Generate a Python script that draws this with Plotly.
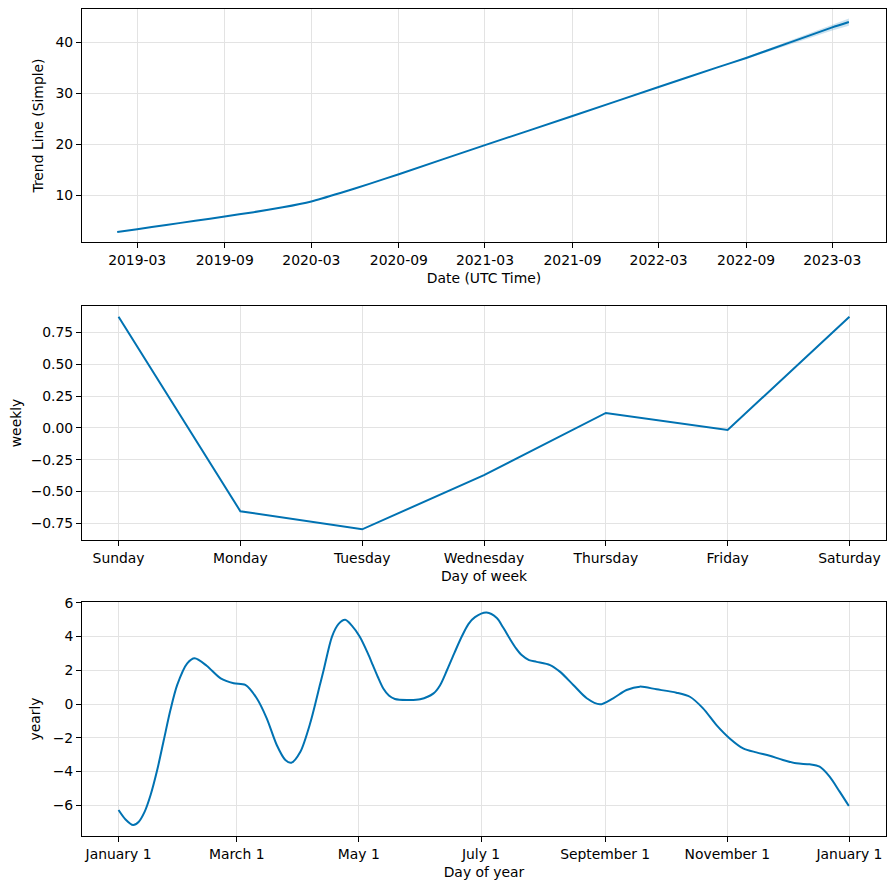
import plotly.graph_objects as go
from plotly.subplots import make_subplots
import pandas as pd

# ---------------- data ----------------
trend_dates = ["2019-01-18", "2019-03-01", "2019-05-01", "2019-07-01", "2019-09-01",
               "2019-11-01", "2020-01-01", "2020-03-01", "2020-05-01", "2020-07-01",
               "2020-09-01", "2021-03-01", "2021-09-01", "2022-03-01",
               "2022-07-01", "2022-09-01", "2022-12-01", "2023-03-01", "2023-04-05"]
trend_values = [2.75, 3.32, 4.14, 4.96, 5.8, 6.65, 7.6, 8.75, 10.4, 12.2,
                14.1, 19.8, 25.5, 31.2, 35.0, 36.9, 39.9, 42.9, 43.95]
trend_upper = [2.75, 3.32, 4.14, 4.96, 5.8, 6.65, 7.6, 8.75, 10.4, 12.2,
               14.1, 19.8, 25.5, 31.2, 35.0, 37.05, 40.25, 43.45, 44.65]
trend_lower = [2.75, 3.32, 4.14, 4.96, 5.8, 6.65, 7.6, 8.75, 10.4, 12.2,
               14.1, 19.8, 25.5, 31.2, 35.0, 36.7, 39.5, 42.3, 43.2]
trend_tickvals = ["2019-03-01", "2019-09-01", "2020-03-01", "2020-09-01", "2021-03-01",
                  "2021-09-01", "2022-03-01", "2022-09-01", "2023-03-01"]
trend_ticktext = ["2019-03", "2019-09", "2020-03", "2020-09", "2021-03",
                  "2021-09", "2022-03", "2022-09", "2023-03"]

weekdays = ["Sunday", "Monday", "Tuesday", "Wednesday", "Thursday", "Friday", "Saturday"]
weekly_values = [0.875, -0.655, -0.797, -0.371, 0.118, -0.016, 0.875]

yearly_days = [0, 3.5, 7.3, 10, 13, 16, 19.3, 22.6, 25.9, 29.3, 34.3, 38, 44, 51, 57.5, 63.3,
               69, 74, 79, 83.3, 86.3, 90.8, 95.8, 100.7, 102.4, 106.6, 109.9, 113.2, 116.5,
               120.4, 124.5, 127, 129.5, 132.3, 135, 138, 144, 150.6, 157.3, 160.5, 164, 167.8,
               171.4, 174.8, 178, 183.8, 188.9, 192, 195.5, 198.5, 201.3, 205, 208.8, 215.5,
               220.4, 227.1, 233.8, 240.4, 247, 253.7, 260.3, 268.7,
               278.6, 285.3, 291.9, 298.6, 305.2, 311.9, 318.5, 325.2, 331.8, 338.5, 345.1,
               350.1, 355.1, 360.1, 364.7]
yearly_values = [-6.29, -6.85, -7.18, -7.0, -6.4, -5.4, -3.92, -2.14, -0.36, 1.13, 2.41, 2.71,
                 2.27, 1.52, 1.23, 1.13, 0.34, -0.85, -2.43, -3.32, -3.48, -2.83, -1.1, 1.2,
                 2.0, 4.0, 4.75, 4.99, 4.65, 4.0, 3.0, 2.3, 1.6, 0.9, 0.5, 0.3, 0.24, 0.28,
                 0.63, 1.1, 2.0, 3.05, 4.0, 4.75, 5.15, 5.42, 5.1, 4.55, 3.85, 3.3, 2.9, 2.6,
                 2.5, 2.31, 1.92, 1.13, 0.34, -0.02, 0.34, 0.83,
                 1.03, 0.87, 0.67, 0.43, -0.26, -1.25, -2.04, -2.63, -2.87, -3.07, -3.32, -3.52,
                 -3.58, -3.72, -4.31, -5.2, -6.05]
yearly_tickvals = ["2017-01-01", "2017-03-01", "2017-05-01", "2017-07-01", "2017-09-01",
                   "2017-11-01", "2018-01-01"]
yearly_ticktext = ["January 1", "March 1", "May 1", "July 1", "September 1", "November 1", "January 1"]

# ---------------- figure ----------------
LINE = "#0072B2"
FONT = "DejaVu Sans"
FS = 13.9

fig = make_subplots(rows=3, cols=1)

fig.add_trace(go.Scatter(x=trend_dates, y=trend_upper, mode="lines", line=dict(width=0),
                         showlegend=False, hoverinfo="skip"), row=1, col=1)
fig.add_trace(go.Scatter(x=trend_dates, y=trend_lower, mode="lines", line=dict(width=0),
                         fill="tonexty", fillcolor="rgba(0,114,178,0.2)",
                         showlegend=False, hoverinfo="skip"), row=1, col=1)
fig.add_trace(go.Scatter(x=trend_dates, y=trend_values, mode="lines",
                         line=dict(color=LINE, width=2, shape="spline", smoothing=0.5),
                         showlegend=False), row=1, col=1)

fig.add_trace(go.Scatter(x=list(range(len(weekdays))), y=weekly_values, mode="lines",
                         line=dict(color=LINE, width=2), showlegend=False), row=2, col=1)

base = pd.Timestamp("2017-01-01")
yearly_dates = [base + pd.Timedelta(days=d) for d in yearly_days]
fig.add_trace(go.Scatter(x=yearly_dates, y=yearly_values, mode="lines",
                         line=dict(color=LINE, width=2, shape="spline", smoothing=0.8),
                         showlegend=False), row=3, col=1)

axis_common = dict(showline=True, linecolor="black", linewidth=1, mirror=True,
                   ticks="outside", ticklen=5, tickwidth=1, tickcolor="black",
                   showgrid=True, gridcolor="#e3e3e3", gridwidth=1, zeroline=False,
                   automargin=False,
                   tickfont=dict(family=FONT, size=FS, color="black"))

# page body has an 8px margin; positions below are window pixels shifted by it
OFF = 8
W, H = 895 - 2 * OFF, 889 - 2 * OFF
ml, mr, mt, mb = 82 - OFF, W - (886 - OFF), 9 - OFF, H - (836 - OFF)
ph = H - mt - mb

def dom(top, bottom):
    top -= OFF
    bottom -= OFF
    return [1 - (bottom - mt) / ph, 1 - (top - mt) / ph]

fig.update_layout(
    width=W, height=H, margin=dict(l=ml, r=mr, t=mt, b=mb),
    plot_bgcolor="white", paper_bgcolor="white",
    font=dict(family=FONT, size=FS, color="black"),
    xaxis=dict(axis_common, domain=[0, 1], type="date", range=["2018-11-05", "2023-06-22"],
               tickvals=trend_tickvals, ticktext=trend_ticktext,
               title=dict(text="Date (UTC Time)", font=dict(family=FONT, size=FS), standoff=6)),
    yaxis=dict(axis_common, domain=dom(9, 242), range=[0.8, 46.5], tickvals=[10, 20, 30, 40],
               title=dict(text="Trend Line (Simple)", font=dict(family=FONT, size=FS), standoff=8)),
    xaxis2=dict(axis_common, domain=[0, 1], range=[-0.3, 6.3],
                tickvals=list(range(len(weekdays))), ticktext=weekdays,
                title=dict(text="Day of week", font=dict(family=FONT, size=FS), standoff=6)),
    yaxis2=dict(axis_common, domain=dom(306, 540), range=[-0.881, 0.959],
                tickvals=[-0.75, -0.5, -0.25, 0, 0.25, 0.5, 0.75], tickformat=".2f",
                title=dict(text="weekly", font=dict(family=FONT, size=FS), standoff=8)),
    xaxis3=dict(axis_common, domain=[0, 1], type="date",
                range=["2016-12-13 18:00", "2018-01-19 06:00"],
                tickvals=yearly_tickvals, ticktext=yearly_ticktext,
                title=dict(text="Day of year", font=dict(family=FONT, size=FS), standoff=6)),
    yaxis3=dict(axis_common, domain=dom(602, 836), range=[-7.83, 6.05],
                tickvals=[-6, -4, -2, 0, 2, 4, 6],
                title=dict(text="yearly", font=dict(family=FONT, size=FS), standoff=8)),
)

fig.write_html("out.html")
